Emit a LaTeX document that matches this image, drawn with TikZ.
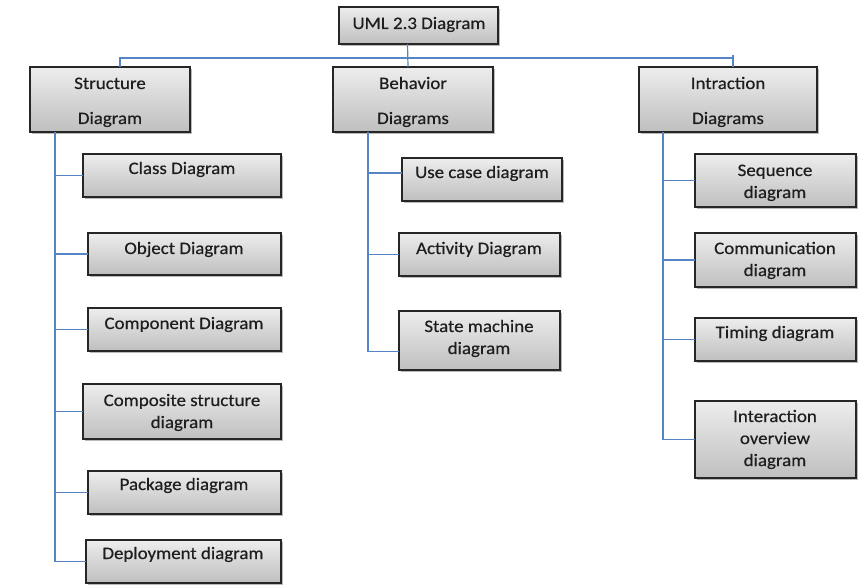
\documentclass[tikz,border=0pt]{standalone}
\usepackage{fontspec}
\setmainfont{Carlito}[FakeStretch=1.08, FakeBold=0.5]
\usetikzlibrary{shadows}
\definecolor{linkblue}{HTML}{5585C4}
\definecolor{boxtop}{HTML}{EDEDED}
\definecolor{boxbot}{HTML}{BFBFBF}
\definecolor{txtcol}{HTML}{1E1E1E}
\tikzset{
  box/.style={draw=black!85, line width=1.4pt, top color=boxtop, bottom color=boxbot,
    inner sep=0pt, outer sep=0pt, anchor=north west,
    drop shadow={shadow xshift=1.6pt, shadow yshift=-1.6pt, fill=black!45, opacity=0.6}},
  lbl/.style={anchor=base, inner sep=0pt, yshift=-1pt, text=txtcol, font=\fontsize{17.5}{20}\selectfont},
  link/.style={draw=linkblue, line width=1.2pt},
}
\begin{document}
\begin{tikzpicture}[x=1pt, y=-1pt]
\useasboundingbox (0,0) rectangle (867,588);

% top level
\node[box, minimum width=159pt, minimum height=37pt] (uml) at (339,7) {};
\node[lbl] (umlT) at (419,28) {UML 2.3 Diagram};

% three categories
\node[box, minimum width=160pt, minimum height=65pt] (str) at (30,67) {};
\node[lbl] (strT1) at (110,88) {Structure};
\node[lbl] (strT2) at (110,123) {Diagram};

\node[box, minimum width=160pt, minimum height=65pt] (beh) at (333,67) {};
\node[lbl] (behT1) at (413,88) {Behavior};
\node[lbl] (behT2) at (413,123) {Diagrams};

\node[box, minimum width=178pt, minimum height=65pt] (int) at (639,67) {};
\node[lbl] (intT1) at (728,88) {Intraction};
\node[lbl] (intT2) at (728,123) {Diagrams};

% structure diagrams
\node[box, minimum width=198pt, minimum height=43pt] (cls) at (83,154) {};
\node[lbl] (clsT) at (182,173) {Class Diagram};
\node[box, minimum width=193pt, minimum height=42pt] (obj) at (88,233) {};
\node[lbl] (objT) at (184,253) {Object Diagram};
\node[box, minimum width=193pt, minimum height=43pt] (cmp) at (88,308) {};
\node[lbl] (cmpT) at (184,328) {Component Diagram};
\node[box, minimum width=198pt, minimum height=55pt] (csd) at (83,384) {};
\node[lbl] (csdT1) at (182,405) {Composite structure};
\node[lbl] (csdT2) at (182,427) {diagram};
\node[box, minimum width=193pt, minimum height=43pt] (pkg) at (88,471) {};
\node[lbl] (pkgT) at (184,489) {Package diagram};
\node[box, minimum width=195pt, minimum height=43pt] (dep) at (86,540) {};
\node[lbl] (depT) at (183,558) {Deployment diagram};

% behavior diagrams
\node[box, minimum width=160pt, minimum height=43pt] (uc) at (402,158) {};
\node[lbl] (ucT) at (482,177) {Use case diagram};
\node[box, minimum width=161pt, minimum height=43pt] (act) at (399,233) {};
\node[lbl] (actT) at (479,253) {Activity Diagram};
\node[box, minimum width=161pt, minimum height=59pt] (sm) at (399,311) {};
\node[lbl] (smT1) at (479,331) {State machine};
\node[lbl] (smT2) at (479,353) {diagram};

% interaction diagrams
\node[box, minimum width=161pt, minimum height=53pt] (seq) at (695,154) {};
\node[lbl] (seqT1) at (775,175) {Sequence};
\node[lbl] (seqT2) at (775,197) {diagram};
\node[box, minimum width=161pt, minimum height=54pt] (com) at (695,233) {};
\node[lbl] (comT1) at (775,253) {Communication};
\node[lbl] (comT2) at (775,275) {diagram};
\node[box, minimum width=161pt, minimum height=43pt] (tim) at (695,318) {};
\node[lbl] (timT) at (775,337) {Timing diagram};
\node[box, minimum width=161pt, minimum height=77pt] (iov) at (695,401) {};
\node[lbl] (iovT1) at (775,421) {Interaction};
\node[lbl] (iovT2) at (775,443) {overview};
\node[lbl] (iovT3) at (775,465) {diagram};

% bus from the top box to the three categories
\coordinate (busR) at (733,58);
\draw[link] ([xshift=-11pt]uml.south) -- ([xshift=-5pt]beh.north);
\draw[link] ([xshift=10pt]str.north) |- (busR) -- ([xshift=5pt]int.north);
\draw[link] (busR) -- ++(0,-3);

% structure trunk and branches
\coordinate (sT) at ([xshift=-55pt]str.south);
\draw[link] (sT) |- (dep.west);
\foreach \n in {cls,obj,cmp,csd,pkg}
  \draw[link] (sT |- \n.west) -- (\n.west);

% behavior trunk and branches
\coordinate (bT) at ([xshift=-45pt]beh.south);
\coordinate (ucIn) at ([yshift=6.5pt]uc.west);
\coordinate (smIn) at ([yshift=-11pt]sm.west);
\draw[link] (bT) |- (smIn);
\draw[link] (bT |- ucIn) -- (ucIn);
\draw[link] (bT |- act.west) -- (act.west);

% interaction trunk and branches
\coordinate (iT) at ([xshift=-65pt]int.south);
\draw[link] (iT) |- (iov.west);
\foreach \n in {seq,com,tim}
  \draw[link] (iT |- \n.west) -- (\n.west);
\end{tikzpicture}
\end{document}
